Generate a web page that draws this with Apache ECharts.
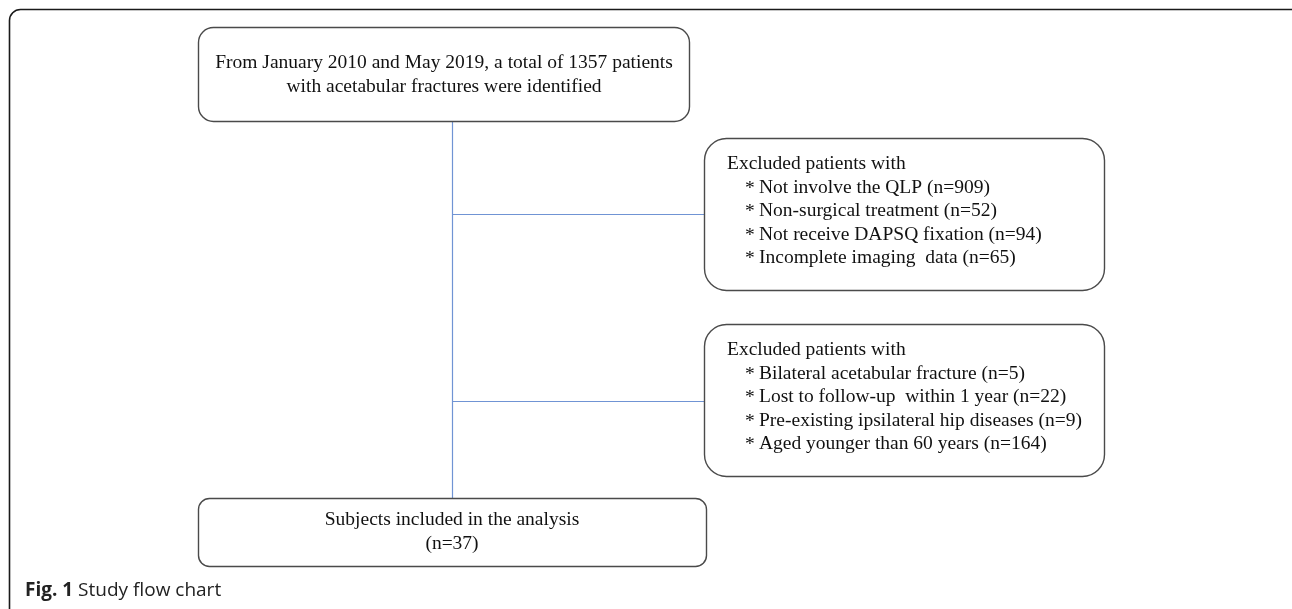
<!DOCTYPE html>
<html lang="en">
<head>
    <meta charset="UTF-8">
    <title>Study flow chart</title>
    <script src="https://cdn.jsdelivr.net/npm/echarts@6/dist/echarts.min.js"></script>
    <style>
        body { margin: 0; background: #fff; }
    </style>
</head>
<body>
<div id="main" style="width: 1292px;height: 609px;"></div>

<script type="text/javascript">
    // texts of the flow chart
    var topLines = ['From January 2010 and May 2019, a total of 1357 patients', 'with acetabular fractures were identified'];
    var exclHead = 'Excluded patients with';
    var excl1Items = ['Not involve the QLP (n=909)', 'Non-surgical treatment (n=52)', 'Not receive DAPSQ fixation (n=94)', 'Incomplete imaging  data (n=65)'];
    var excl2Items = ['Bilateral acetabular fracture (n=5)', 'Lost to follow-up  within 1 year (n=22)', 'Pre-existing ipsilateral hip diseases (n=9)', 'Aged younger than 60 years (n=164)'];
    var bottomLines = ['Subjects included in the analysis', '(n=37)'];
    var captionBold = 'Fig. 1';
    var captionText = 'Study flow chart';

    var myChart = echarts.init(document.getElementById('main'));

    var serif = '"Liberation Serif", "Times New Roman", serif';
    var sans = '"Open Sans", "Noto Sans", sans-serif';
    var boxStroke = '#4a4a4a';
    var lineColor = '#7094d4';

    function box(x, y, w, h, r) {
        return {
            type: 'rect',
            shape: {x: x, y: y, width: w, height: h, r: r},
            style: {fill: '#fff', stroke: boxStroke, lineWidth: 1.4}
        };
    }

    function txt(s, x, y, align) {
        return {
            type: 'text',
            style: {
                text: s, x: x, y: y,
                fontFamily: serif, fontSize: 19.5, fill: '#111',
                align: align || 'left', verticalAlign: 'middle'
            }
        };
    }

    // exclusion box: heading + starred items
    function exclBox(y0, items) {
        var els = [box(704.5, y0, 400, 152, 22)];
        els.push(txt(exclHead, 727, y0 + 25));
        items.forEach(function (s, i) {
            var yy = y0 + 49 + i * 23.5;
            els.push(txt('*', 745, yy + 1));
            els.push(txt(s, 759, yy));
        });
        return els;
    }

    var elements = [];

    // outer frame
    elements.push({
        type: 'rect',
        shape: {x: 9.5, y: 9.5, width: 1300, height: 640, r: 11},
        style: {fill: 'none', stroke: '#1a1a1a', lineWidth: 1.6}
    });

    // connector lines
    elements.push({type: 'line', shape: {x1: 452.5, y1: 122, x2: 452.5, y2: 498}, style: {stroke: lineColor, lineWidth: 1.2}});
    elements.push({type: 'line', shape: {x1: 452.5, y1: 214.5, x2: 704.5, y2: 214.5}, style: {stroke: lineColor, lineWidth: 1.2}});
    elements.push({type: 'line', shape: {x1: 452.5, y1: 401.5, x2: 704.5, y2: 401.5}, style: {stroke: lineColor, lineWidth: 1.2}});

    // top box
    elements.push(box(198.5, 27.5, 491, 94, 15));
    topLines.forEach(function (s, i) {
        elements.push(txt(s, 444, 63 + i * 24, 'center'));
    });

    elements = elements.concat(exclBox(138.5, excl1Items));
    elements = elements.concat(exclBox(324.5, excl2Items));

    // bottom box
    elements.push(box(198.5, 498.5, 508, 68, 11));
    bottomLines.forEach(function (s, i) {
        elements.push(txt(s, 452, 520 + i * 24, 'center'));
    });

    // caption
    elements.push({
        type: 'text',
        style: {
            text: '{b|' + captionBold + '} ' + captionText,
            x: 25, y: 591,
            fontFamily: sans, fontSize: 19, fill: '#222',
            verticalAlign: 'middle',
            rich: {b: {fontWeight: 'bold', fontFamily: sans, fontSize: 19, fill: '#222'}}
        }
    });

    var option = {
        animation: false,
        graphic: elements
    };

    myChart.setOption(option);
</script>
</body>
</html>
